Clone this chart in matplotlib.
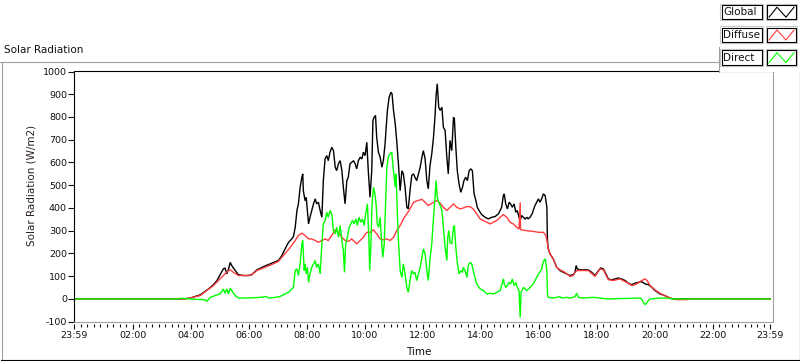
import numpy as np
import matplotlib
matplotlib.use("Agg")
from matplotlib import pyplot as plt
from matplotlib.patches import Rectangle

plt.rcParams['font.family'] = ['DejaVu Sans']
plt.rcParams['axes.unicode_minus'] = False

# time in hours after midnight (23:59 of the day before = -1/60), values in W/m2
global_t = [-0.017, 3.73, 3.98, 4.32, 4.61, 4.78, 4.90, 5.12, 5.18, 5.24,
            5.30, 5.36, 5.41, 5.53, 5.64, 5.81, 5.99, 6.10, 6.28, 6.50,
            6.79, 7.02, 7.14, 7.25, 7.37, 7.48, 7.54, 7.60, 7.66, 7.71,
            7.77, 7.83, 7.86, 7.88, 7.94, 7.98, 8.02, 8.06, 8.11, 8.17,
            8.23, 8.29, 8.34, 8.40, 8.46, 8.52, 8.57, 8.63, 8.69, 8.74,
            8.80, 8.86, 8.92, 8.98, 9.03, 9.09, 9.15, 9.21, 9.26, 9.32,
            9.38, 9.43, 9.49, 9.55, 9.61, 9.67, 9.72, 9.78, 9.84, 9.90,
            9.95, 10.01, 10.07, 10.12, 10.18, 10.24, 10.28, 10.32, 10.37, 10.41,
            10.47, 10.53, 10.59, 10.64, 10.70, 10.73, 10.78, 10.84, 10.90, 10.94,
            10.99, 11.05, 11.10, 11.16, 11.22, 11.28, 11.33, 11.39, 11.45, 11.50,
            11.56, 11.62, 11.68, 11.73, 11.79, 11.85, 11.91, 11.97, 12.02, 12.08,
            12.14, 12.19, 12.25, 12.31, 12.37, 12.42, 12.46, 12.50, 12.55, 12.60,
            12.66, 12.71, 12.77, 12.83, 12.88, 12.94, 13.00, 13.06, 13.09, 13.14,
            13.19, 13.25, 13.31, 13.37, 13.42, 13.48, 13.54, 13.60, 13.66, 13.71,
            13.77, 13.83, 13.88, 13.94, 14.03, 14.15, 14.26, 14.38, 14.49, 14.61,
            14.72, 14.78, 14.81, 14.86, 14.92, 14.98, 15.03, 15.09, 15.15, 15.21,
            15.26, 15.32, 15.36, 15.41, 15.47, 15.53, 15.59, 15.64, 15.70, 15.77,
            15.81, 15.87, 15.93, 15.99, 16.04, 16.10, 16.16, 16.22, 16.28, 16.30,
            16.33, 16.39, 16.50, 16.62, 16.73, 16.85, 16.97, 17.08, 17.19, 17.25,
            17.29, 17.33, 17.42, 17.54, 17.71, 17.83, 17.94, 18.06, 18.14, 18.23,
            18.32, 18.40, 18.52, 18.63, 18.74, 18.86, 18.98, 19.09, 19.21, 19.32,
            19.43, 19.55, 19.67, 19.78, 19.90, 20.01, 20.18, 20.35, 20.52, 20.64,
            23.983]
global_v = [0, 0, 4, 18, 44, 63, 81, 132, 136, 110,
            132, 161, 147, 125, 107, 103, 103, 107, 128, 142,
            157, 169, 191, 220, 249, 264, 274, 315, 389, 418,
            491, 535, 550, 476, 432, 447, 389, 330, 359, 389,
            418, 440, 418, 425, 389, 359, 520, 616, 630, 608,
            645, 667, 652, 579, 564, 594, 608, 564, 491, 418,
            520, 535, 594, 601, 608, 594, 572, 608, 623, 616,
            645, 630, 689, 564, 447, 564, 784, 799, 807, 711,
            645, 623, 579, 608, 682, 740, 829, 887, 909, 902,
            829, 770, 697, 594, 476, 564, 550, 491, 403, 396,
            476, 543, 550, 535, 520, 550, 579, 623, 652, 616,
            520, 484, 587, 638, 711, 799, 895, 946, 843, 829,
            843, 755, 741, 623, 550, 697, 652, 799, 792, 667,
            564, 506, 469, 491, 520, 535, 520, 564, 572, 564,
            462, 433, 403, 389, 371, 359, 352, 359, 362, 374,
            403, 455, 462, 418, 396, 425, 418, 403, 418, 381,
            389, 359, 345, 367, 359, 352, 359, 352, 359, 374,
            389, 411, 425, 440, 425, 440, 462, 455, 403, 256,
            220, 198, 176, 139, 125, 117, 110, 103, 107, 117,
            147, 132, 128, 128, 128, 117, 103, 125, 136, 132,
            110, 88, 84, 88, 92, 88, 81, 69, 63, 69,
            73, 76, 66, 63, 51, 37, 22, 15, 4, 0,
            0]

diffuse_t = [-0.017, 3.73, 3.98, 4.32, 4.55, 4.78, 4.95, 5.12, 5.30, 5.36,
             5.47, 5.64, 5.93, 6.10, 6.28, 6.50, 6.79, 7.02, 7.19, 7.42,
             7.60, 7.71, 7.83, 7.94, 8.06, 8.17, 8.29, 8.40, 8.52, 8.63,
             8.74, 8.86, 8.98, 9.09, 9.21, 9.32, 9.43, 9.55, 9.72, 9.84,
             9.95, 10.07, 10.18, 10.30, 10.41, 10.53, 10.64, 10.76, 10.87, 10.99,
             11.10, 11.22, 11.33, 11.45, 11.56, 11.68, 11.79, 11.97, 12.08, 12.19,
             12.37, 12.48, 12.60, 12.71, 12.83, 12.94, 13.06, 13.17, 13.29, 13.40,
             13.52, 13.63, 13.74, 13.86, 13.98, 14.09, 14.21, 14.32, 14.43, 14.55,
             14.67, 14.78, 14.90, 15.01, 15.12, 15.24, 15.32, 15.36, 15.37, 15.39,
             15.59, 15.81, 15.99, 16.16, 16.25, 16.30, 16.33, 16.39, 16.50, 16.62,
             16.73, 16.85, 16.97, 17.08, 17.19, 17.25, 17.33, 17.71, 17.94, 18.11,
             18.23, 18.40, 18.57, 18.80, 19.03, 19.21, 19.38, 19.55, 19.67, 19.74,
             19.84, 20.01, 20.18, 20.41, 20.64, 20.76, 21.10, 21.22, 23.983]
diffuse_v = [0, 0, 4, 15, 37, 59, 81, 103, 125, 128,
             117, 103, 103, 106, 125, 136, 151, 165, 191, 225,
             257, 279, 289, 279, 264, 264, 257, 249, 257, 264,
             257, 279, 304, 293, 271, 257, 253, 264, 242, 257,
             271, 293, 293, 304, 286, 264, 260, 264, 257, 271,
             300, 323, 352, 374, 396, 425, 431, 438, 425, 411,
             425, 433, 421, 403, 389, 403, 418, 403, 396, 400,
             406, 406, 396, 374, 352, 345, 337, 330, 337, 345,
             359, 371, 359, 337, 330, 315, 308, 425, 309, 304,
             300, 297, 293, 293, 279, 245, 220, 198, 176, 139,
             128, 121, 110, 99, 103, 117, 125, 125, 99, 132,
             128, 85, 81, 88, 73, 59, 66, 81, 88, 81,
             59, 40, 25, 10, 0, -3, -3, 0, 0]

direct_t = [-0.017, 3.55, 3.63, 3.98, 4.32, 4.49, 4.55, 4.67, 4.84, 5.01,
            5.12, 5.18, 5.24, 5.30, 5.36, 5.41, 5.53, 5.64, 5.93, 6.39,
            6.60, 6.68, 6.91, 7.08, 7.25, 7.37, 7.48, 7.54, 7.60, 7.66,
            7.71, 7.77, 7.83, 7.86, 7.91, 7.94, 7.98, 8.02, 8.06, 8.11,
            8.17, 8.23, 8.29, 8.34, 8.40, 8.46, 8.52, 8.57, 8.63, 8.69,
            8.74, 8.80, 8.86, 8.92, 8.98, 9.03, 9.09, 9.15, 9.21, 9.26,
            9.30, 9.34, 9.40, 9.46, 9.52, 9.57, 9.63, 9.69, 9.74, 9.80,
            9.86, 9.92, 9.98, 10.03, 10.09, 10.14, 10.17, 10.21, 10.25, 10.30,
            10.34, 10.39, 10.43, 10.48, 10.53, 10.57, 10.62, 10.67, 10.71, 10.76,
            10.81, 10.87, 10.93, 10.99, 11.05, 11.08, 11.12, 11.16, 11.22, 11.28,
            11.33, 11.39, 11.45, 11.50, 11.56, 11.62, 11.68, 11.73, 11.79, 11.85,
            11.91, 11.97, 12.02, 12.08, 12.14, 12.19, 12.25, 12.31, 12.37, 12.42,
            12.46, 12.50, 12.55, 12.60, 12.66, 12.71, 12.77, 12.83, 12.86, 12.90,
            12.94, 13.00, 13.06, 13.09, 13.14, 13.19, 13.25, 13.31, 13.37, 13.40,
            13.46, 13.52, 13.57, 13.63, 13.69, 13.74, 13.80, 13.86, 13.98, 14.09,
            14.21, 14.32, 14.43, 14.55, 14.67, 14.78, 14.81, 14.86, 14.92, 14.98,
            15.03, 15.09, 15.15, 15.21, 15.26, 15.32, 15.36, 15.39, 15.47, 15.59,
            15.70, 15.81, 15.93, 16.04, 16.10, 16.16, 16.22, 16.25, 16.28, 16.30,
            16.33, 16.50, 16.73, 16.79, 16.97, 17.08, 17.25, 17.31, 17.37, 17.54,
            17.88, 18.11, 18.34, 19.49, 19.55, 19.61, 19.67, 19.72, 19.78, 19.84,
            20.18, 20.41, 20.64, 23.983]
direct_v = [0, 0, 3, 0, -3, -4, -11, 7, 15, 22,
            44, 25, 44, 22, 48, 37, 15, 4, 4, 7,
            11, 4, 7, 11, 22, 29, 44, 51, 125, 132,
            103, 154, 242, 257, 125, 154, 110, 139, 73, 110,
            139, 154, 169, 139, 154, 110, 242, 330, 345, 381,
            359, 389, 374, 300, 286, 315, 271, 323, 257, 213,
            117, 242, 271, 315, 330, 345, 330, 352, 323, 359,
            337, 352, 323, 374, 418, 271, 125, 242, 418, 491,
            469, 418, 330, 315, 359, 271, 183, 242, 389, 579,
            623, 638, 645, 564, 491, 550, 389, 257, 125, 95,
            154, 110, 51, 29, 80, 125, 110, 117, 81, 110,
            139, 183, 220, 198, 125, 81, 176, 242, 359, 440,
            521, 447, 425, 411, 389, 315, 227, 169, 271, 301,
            249, 242, 315, 323, 227, 161, 110, 125, 117, 139,
            125, 95, 147, 161, 154, 125, 95, 66, 44, 37,
            22, 25, 22, 29, 37, 88, 66, 51, 59, 73,
            66, 88, 59, 73, 51, 37, -81, 29, 51, 37,
            51, 66, 95, 120, 130, 165, 176, 154, 125, 22,
            7, 4, 10, 4, 7, 4, 10, 25, 7, 4,
            7, 4, 0, 4, 0, -15, -25, -19, -7, 0,
            4, 4, 0, 0]

series_names = ['Global', 'Diffuse', 'Direct']
series_colors = ['#000000', '#ff3c3c', '#00ff00']

major_ticks = [-1 / 60, 2, 4, 6, 8, 10, 12, 14, 16, 18, 20, 22, 23 + 59 / 60]
major_labels = ['23:59', '02:00', '04:00', '06:00', '08:00', '10:00', '12:00',
                '14:00', '16:00', '18:00', '20:00', '22:00', '23:59']
y_ticks = list(range(-100, 1001, 100))

W, H = 800, 361
fig = plt.figure(figsize=(W / 100, H / 100), dpi=100)
fig.patch.set_facecolor('white')

# plot area in pixels: x 74..773, y 71.5..321.7
ax = fig.add_axes([74 / W, 1 - 321.7 / H, 699 / W, 250.2 / H])
for t, v, c in zip([global_t, diffuse_t, direct_t],
                   [global_v, diffuse_v, direct_v], series_colors):
    ax.plot(t, v, color=c, lw=1.0, solid_joinstyle='miter')

ax.set_xlim(-0.03, 24.08)
ax.set_ylim(-100, 1000)
ax.set_xticks(major_ticks)
ax.set_xticklabels(major_labels)
minor = []
for a, b in zip(major_ticks[:-1], major_ticks[1:]):
    minor += list(np.linspace(a, b, 10)[1:-1])
ax.set_xticks(minor, minor=True)
ax.set_yticks(y_ticks)

ax.spines['left'].set_color('black')
ax.spines['top'].set_color('black')
ax.spines['right'].set_color('#a0a0a0')
ax.spines['bottom'].set_position(('outward', 2))
ax.spines['bottom'].set_color('none')
for s in ax.spines.values():
    s.set_linewidth(0.8)

ax.tick_params(axis='y', direction='out', length=4.3, width=0.8, pad=0.8,
               labelsize=6.8, colors='#111111')
ax.tick_params(axis='x', which='major', direction='out', length=3.4, width=0.8,
               pad=1.6, labelsize=6.8, colors='#111111')
ax.tick_params(axis='x', which='minor', direction='out', length=2.0, width=0.8,
               colors='#111111')

# overlay in pixel coordinates for the frame, titles and legend
ov = fig.add_axes([0, 0, 1, 1], zorder=5)
ov.set_xlim(0, W)
ov.set_ylim(H, 0)
ov.axis('off')
ov.patch.set_alpha(0)

ov.plot([74, 773], [321.5, 321.5], color='#a0a0a0', lw=0.8)
ov.plot([0, 718.5], [61.5, 61.5], color='#a0a0a0', lw=0.8)
ov.plot([1.5, 1.5], [61.5, 360], color='#a0a0a0', lw=0.8)
ov.plot([1, 800], [359.5, 359.5], color='black', lw=0.8)
ov.plot([799.5, 799.5], [72, 360], color='black', lw=0.8)

ov.text(4, 50, 'Solar Radiation', fontsize=7.5, ha='left', va='center',
        color='#111111')
ov.text(31, 185, 'Solar Radiation (W/m2)', fontsize=7.5, rotation=90,
        ha='center', va='center', color='#2a2020')
ov.text(419, 352, 'Time', fontsize=7.5, ha='center', va='center',
        color='#111111')

# legend panel
ov.add_patch(Rectangle((718.5, 0), 82, 72, facecolor='white', edgecolor='none'))
ov.plot([718.5, 718.5], [47, 72], color='#a0a0a0', lw=0.8)
row_tops = [4.7, 27.5, 50.2]
for name, c, y0 in zip(series_names, series_colors, row_tops):
    h = 14.5
    for x0, w in [(721.5, 40.5), (767, 28.5)]:
        ov.add_patch(Rectangle((x0 - 1.2, y0 - 1.2), w + 2.4, h + 2.4,
                               facecolor='none', edgecolor='#c8c8c8', lw=0.8))
        ov.add_patch(Rectangle((x0, y0), w, h, facecolor='white',
                               edgecolor='black', lw=0.8))
    ov.text(723.5, y0 + h / 2 + 0.3, name, fontsize=7.5, ha='left',
            va='center', color='#111111')
    ov.plot([769, 777, 786, 794], [y0 + 12.5, y0 + 2.5, y0 + 12.5, y0 + 2.5],
            color=c, lw=0.8)

fig.savefig('out.png', dpi=100)
